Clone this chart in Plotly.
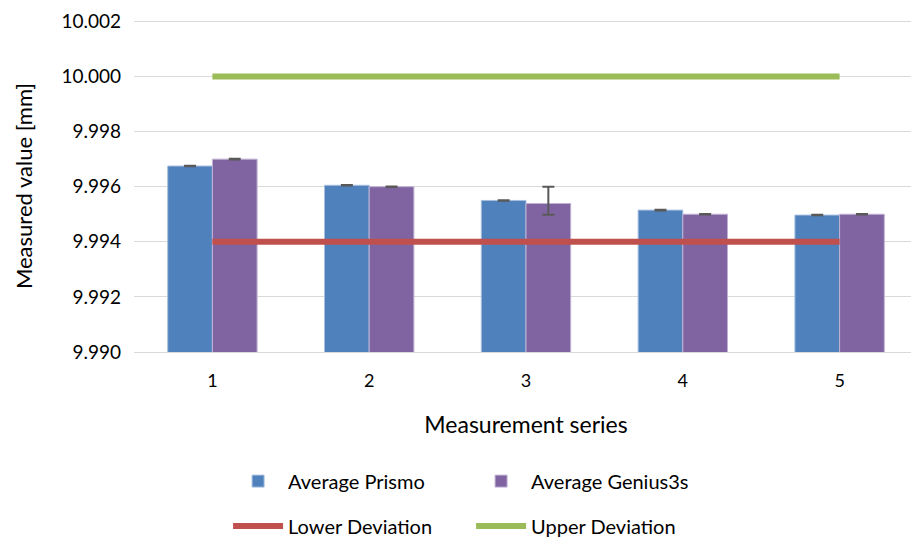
import plotly.graph_objects as go

categories = [1, 2, 3, 4, 5]
prismo = [9.99675, 9.99605, 9.99550, 9.99515, 9.99497]
genius = [9.99700, 9.99600, 9.99539, 9.99500, 9.99500]
prismo_err = [0.00001, 0.00001, 0.00001, 0.00001, 0.00001]
genius_err_plus = [0.00001, 0.00001, 0.00061, 0.00001, 0.00001]
genius_err_minus = [0.00001, 0.00001, 0.00041, 0.00001, 0.00001]
lower_dev = [9.994] * 5
upper_dev = [10.000] * 5
y_ticks = [9.990, 9.992, 9.994, 9.996, 9.998, 10.000, 10.002]

FONT = "Lato, 'Open Sans', sans-serif"

fig = go.Figure()
fig.add_trace(go.Bar(
    x=categories, y=prismo, name="Average Prismo",
    marker=dict(color="#4F81BD", line=dict(color="#A7BFDE", width=1)),
    error_y=dict(type="data", array=prismo_err, color="#595959", thickness=2, width=6),
    legend="legend",
))
fig.add_trace(go.Bar(
    x=categories, y=genius, name="Average Genius3s",
    marker=dict(color="#8064A2", line=dict(color="#C0B2D3", width=1)),
    error_y=dict(type="data", array=genius_err_plus, arrayminus=genius_err_minus,
                 symmetric=False, color="#595959", thickness=2, width=6),
    legend="legend",
))
fig.add_trace(go.Scatter(
    x=categories, y=lower_dev, name="Lower Deviation", mode="lines",
    line=dict(color="#C0504D", width=6), legend="legend2",
))
fig.add_trace(go.Scatter(
    x=categories, y=upper_dev, name="Upper Deviation", mode="lines",
    line=dict(color="#9BBB59", width=6), legend="legend2",
))

fig.update_layout(
    width=911, height=531,
    margin=dict(l=126, r=1, t=10, b=187),
    paper_bgcolor="white", plot_bgcolor="white",
    font=dict(family=FONT, size=18, color="#000000"),
    barmode="group", bargap=0.43, bargroupgap=0,
    showlegend=True,
    legend=dict(orientation="h", x=0.12, xanchor="left", xref="paper",
                y=0.109, yanchor="middle", yref="container",
                entrywidth=178, entrywidthmode="pixels", font=dict(size=20, family=FONT),
                itemwidth=50, tracegroupgap=0),
    legend2=dict(orientation="h", x=0.12, xanchor="left", xref="paper",
                 y=0.0245, yanchor="middle", yref="container",
                 entrywidth=178, entrywidthmode="pixels", font=dict(size=20, family=FONT),
                 itemwidth=50),
    xaxis=dict(
        tickmode="array", tickvals=categories, ticktext=[str(c) for c in categories],
        range=[0.5, 5.5], showgrid=False, showline=True, linecolor="#D9D9D9", linewidth=1,
        ticks="", tickfont=dict(size=18, family=FONT), ticklabelstandoff=12,
        title=dict(text="Measurement series", font=dict(size=23, family=FONT), standoff=27),
        zeroline=False,
    ),
    yaxis=dict(
        range=[9.990, 10.00205], tickmode="array", tickvals=y_ticks,
        ticktext=[f"{v:.3f}" for v in y_ticks],
        showgrid=True, gridcolor="#D9D9D9", gridwidth=1, showline=False, zeroline=False,
        ticks="", tickfont=dict(size=19, family=FONT), ticklabelstandoff=12,
        ticklabeloverflow="allow",
        title=dict(text="Measured value [mm]", font=dict(size=22, family=FONT), standoff=22),
    ),
)

fig.write_html("out.html")
